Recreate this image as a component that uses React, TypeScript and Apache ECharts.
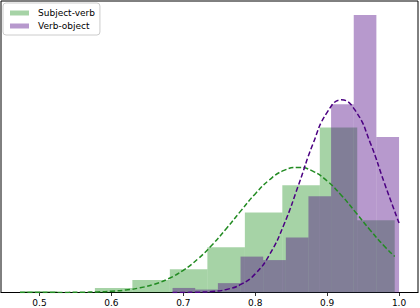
import React, { useEffect, useRef } from "react";
import * as echarts from "echarts";

// Histogram bin edges and densities
const greenEdges = [0.4729, 0.525, 0.5771, 0.6292, 0.6813, 0.7335, 0.7856, 0.8377, 0.8898, 0.9419, 0.994];
const greenDensity = [0.06, 0, 0.17, 0.47, 0.87, 1.69, 2.99, 4.0, 6.16, 2.7];
const purpleEdges = [0.6851, 0.7166, 0.7481, 0.7796, 0.8111, 0.8426, 0.874, 0.9055, 0.937, 0.9685, 1.0];
const purpleDensity = [0.17, 0.11, 0.35, 1.34, 1.21, 2.05, 3.59, 7.03, 10.36, 5.8];

const greenFitX = [0.473, 0.5, 0.52, 0.54, 0.56, 0.58, 0.6, 0.62, 0.64, 0.66, 0.68, 0.7, 0.72, 0.74, 0.76, 0.78, 0.8, 0.82, 0.84, 0.86, 0.88, 0.9, 0.92, 0.94, 0.96, 0.98, 0.994];
const greenFitY = [0.0002, 0.0007, 0.0018, 0.0044, 0.0103, 0.0227, 0.0475, 0.094, 0.176, 0.311, 0.522, 0.829, 1.245, 1.773, 2.389, 3.047, 3.68, 4.209, 4.556, 4.67, 4.531, 4.163, 3.621, 2.981, 2.324, 1.716, 1.343];
const purpleFitX = [0.685, 0.7, 0.72, 0.74, 0.76, 0.78, 0.8, 0.82, 0.84, 0.86, 0.88, 0.9, 0.92, 0.94, 0.96, 0.98, 1.0];
const purpleFitY = [0.001, 0.003, 0.011, 0.038, 0.114, 0.3, 0.695, 1.416, 2.537, 3.994, 5.527, 6.723, 7.19, 6.758, 5.585, 4.056, 2.59];

const xTicks = [0.5, 0.6, 0.7, 0.8, 0.9, 1.0];
const seriesNames = ["Subject-verb", "Verb-object"];

const FONT = "DejaVu Sans";

function binData(edges: number[], vals: number[]) {
  return vals.map((v, i) => [edges[i], edges[i + 1], v]);
}

function renderBar(params: any, api: any) {
  const x0 = api.value(0);
  const x1 = api.value(1);
  const y = api.value(2);
  const p0 = api.coord([x0, y]);
  const p1 = api.coord([x1, 0]);
  return {
    type: "rect",
    shape: { x: p0[0], y: p0[1], width: p1[0] - p0[0], height: p1[1] - p0[1] },
    style: api.style(),
  };
}

export default function App() {
  const ref = useRef<HTMLDivElement>(null);
  useEffect(() => {
    document.body.style.margin = "0";
    const chart = echarts.init(ref.current!, null, { renderer: "svg" });
    chart.setOption({
      animation: false,
      grid: {
        left: 1,
        top: 1,
        width: 417,
        height: 291.5,
        show: true,
        borderColor: "#000",
        borderWidth: 1,
        backgroundColor: "transparent",
      },
      legend: {
        data: seriesNames,
        orient: "vertical",
        left: 3,
        top: 3,
        padding: [4, 5, 3, 7],
        itemGap: 1,
        itemWidth: 19,
        itemHeight: 5,
        icon: "rect",
        borderColor: "#cccccc",
        borderWidth: 1,
        borderRadius: 3,
        backgroundColor: "rgba(255,255,255,0.8)",
        textStyle: { fontFamily: FONT, fontSize: 9, color: "#000", lineHeight: 12, padding: [0, 0, 0, 4] },
      },
      xAxis: {
        type: "value",
        min: 0.44654,
        max: 1.02636,
        splitLine: { show: false },
        axisLine: { show: true, lineStyle: { color: "#000", width: 1 } },
        axisTick: { show: true, length: 3.5, customValues: xTicks, lineStyle: { color: "#000", width: 0.8 } },
        axisLabel: {
          customValues: xTicks,
          formatter: (v: number) => v.toFixed(1),
          fontFamily: FONT,
          fontSize: 9,
          color: "#000",
          margin: 6,
        },
      },
      yAxis: {
        type: "value",
        min: 0,
        max: 10.88,
        show: false,
        splitLine: { show: false },
      },
      series: [
        {
          name: seriesNames[0],
          type: "custom",
          renderItem: renderBar,
          encode: { x: [0, 1], y: 2 },
          itemStyle: { color: "rgba(0,128,0,0.35)" },
          data: binData(greenEdges, greenDensity),
          z: 1,
        },
        {
          name: seriesNames[1],
          type: "custom",
          renderItem: renderBar,
          encode: { x: [0, 1], y: 2 },
          itemStyle: { color: "rgba(75,0,130,0.4)" },
          data: binData(purpleEdges, purpleDensity),
          z: 2,
        },
        {
          name: "Subject-verb fit",
          type: "line",
          smooth: true,
          showSymbol: false,
          data: greenFitX.map((x, i) => [x, greenFitY[i]]),
          lineStyle: { color: "#228B22", width: 1.5, type: [5, 2.5] },
          itemStyle: { color: "#228B22" },
          z: 3,
        },
        {
          name: "Verb-object fit",
          type: "line",
          smooth: true,
          showSymbol: false,
          data: purpleFitX.map((x, i) => [x, purpleFitY[i]]),
          lineStyle: { color: "#4B0082", width: 1.5, type: [5, 2.5] },
          itemStyle: { color: "#4B0082" },
          z: 4,
        },
      ],
    });
    return () => chart.dispose();
  }, []);
  return <div ref={ref} style={{ width: 420, height: 308 }} />;
}
